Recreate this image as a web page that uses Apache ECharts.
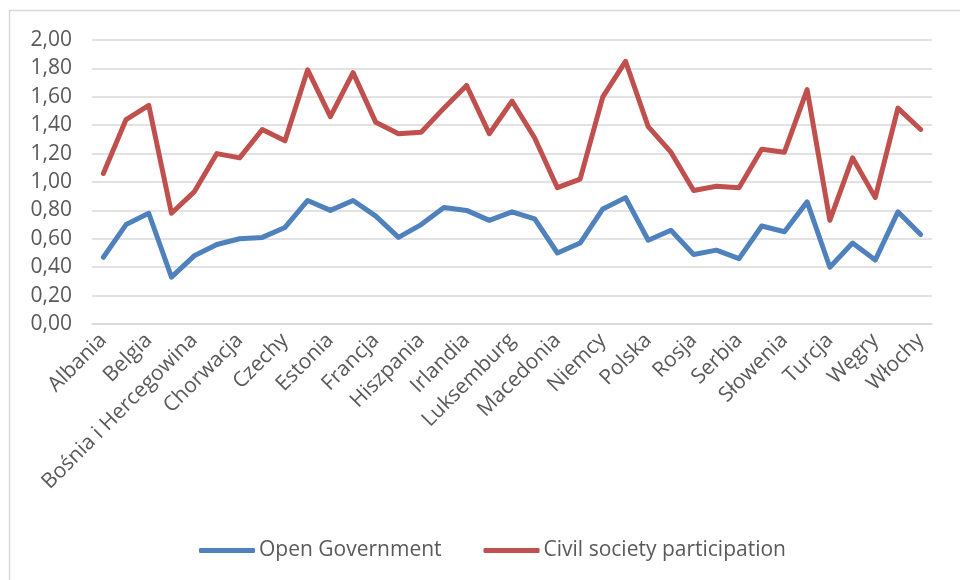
<!DOCTYPE html>
<html>
<head>
<meta charset="utf-8">
<script src="https://cdn.jsdelivr.net/npm/echarts@6/dist/echarts.min.js"></script>
<style>
  html, body { margin: 0; padding: 0; background: #fff; }
  #chart { width: 960px; height: 580px; }
</style>
</head>
<body>
<div id="chart"></div>
<script>
// kraje (co drugi podpis widoczny na osi)
const countries = [
  'Albania', 'Austria', 'Belgia', 'Białoruś', 'Bośnia i Hercegowina', 'Bułgaria',
  'Chorwacja', 'Cypr', 'Czechy', 'Dania', 'Estonia', 'Finlandia', 'Francja',
  'Grecja', 'Hiszpania', 'Holandia', 'Irlandia', 'Litwa', 'Luksemburg', 'Łotwa',
  'Macedonia', 'Malta', 'Niemcy', 'Norwegia', 'Polska', 'Portugalia', 'Rosja',
  'Rumunia', 'Serbia', 'Słowacja', 'Słowenia', 'Szwecja', 'Turcja', 'Ukraina',
  'Węgry', 'Wielka Brytania', 'Włochy'
];

const openGov = [
  0.47, 0.70, 0.78, 0.33, 0.48, 0.56, 0.60, 0.61, 0.68, 0.87,
  0.80, 0.87, 0.76, 0.61, 0.70, 0.82, 0.80, 0.73, 0.79, 0.74,
  0.50, 0.57, 0.81, 0.89, 0.59, 0.66, 0.49, 0.52, 0.46, 0.69,
  0.65, 0.86, 0.40, 0.57, 0.45, 0.79, 0.63
];

const civilSociety = [
  1.06, 1.44, 1.54, 0.78, 0.93, 1.20, 1.17, 1.37, 1.29, 1.79,
  1.46, 1.77, 1.42, 1.34, 1.35, 1.52, 1.68, 1.34, 1.57, 1.31,
  0.96, 1.02, 1.60, 1.85, 1.39, 1.21, 0.94, 0.97, 0.96, 1.23,
  1.21, 1.65, 0.73, 1.17, 0.89, 1.52, 1.37
];

const seriesNames = ['Open Government', 'Civil society participation'];
const colors = ['#4F81BD', '#C0504D'];

const chart = echarts.init(document.getElementById('chart'));
const font = '"Open Sans", "Noto Sans", sans-serif';

const option = {
  animation: false,
  color: colors,
  textStyle: { fontFamily: font },
  graphic: [
    {
      // ramka wykresu (lewa i górna krawędź)
      type: 'rect',
      shape: { x: 9.5, y: 10.5, width: 1000, height: 700 },
      style: { fill: 'none', stroke: '#D9D9D9', lineWidth: 1.5 },
      silent: true,
    },
  ],
  grid: { left: 92, right: 28, top: 40, bottom: 256 },
  legend: {
    data: seriesNames,
    left: 194,
    top: 535,
    icon: 'roundRect',
    itemWidth: 56,
    itemHeight: 5,
    itemGap: 42,
    textStyle: { fontSize: 21, color: '#595959', fontFamily: font, padding: [0, 0, 0, -1] },
  },
  xAxis: {
    type: 'category',
    data: countries,
    boundaryGap: true,
    axisLine: { show: true, lineStyle: { color: '#D9D9D9', width: 1.5 } },
    axisTick: { show: false },
    axisLabel: {
      interval: 1,
      rotate: 45,
      margin: 13,
      fontSize: 21,
      color: '#595959',
      fontFamily: font,
    },
  },
  yAxis: {
    type: 'value',
    min: 0,
    max: 2,
    interval: 0.2,
    axisLine: { show: false },
    axisTick: { show: false },
    splitLine: { lineStyle: { color: '#D9D9D9', width: 1.5 } },
    axisLabel: {
      margin: 20,
      fontSize: 21,
      color: '#595959',
      fontFamily: font,
      formatter: (v) => v.toFixed(2).replace('.', ','),
    },
  },
  series: [
    {
      name: seriesNames[0],
      type: 'line',
      data: openGov,
      symbol: 'none',
      lineStyle: { width: 5, color: colors[0], cap: 'round', join: 'round' },
    },
    {
      name: seriesNames[1],
      type: 'line',
      data: civilSociety,
      symbol: 'none',
      lineStyle: { width: 5, color: colors[1], cap: 'round', join: 'round' },
    },
  ],
};

chart.setOption(option);
</script>
</body>
</html>
